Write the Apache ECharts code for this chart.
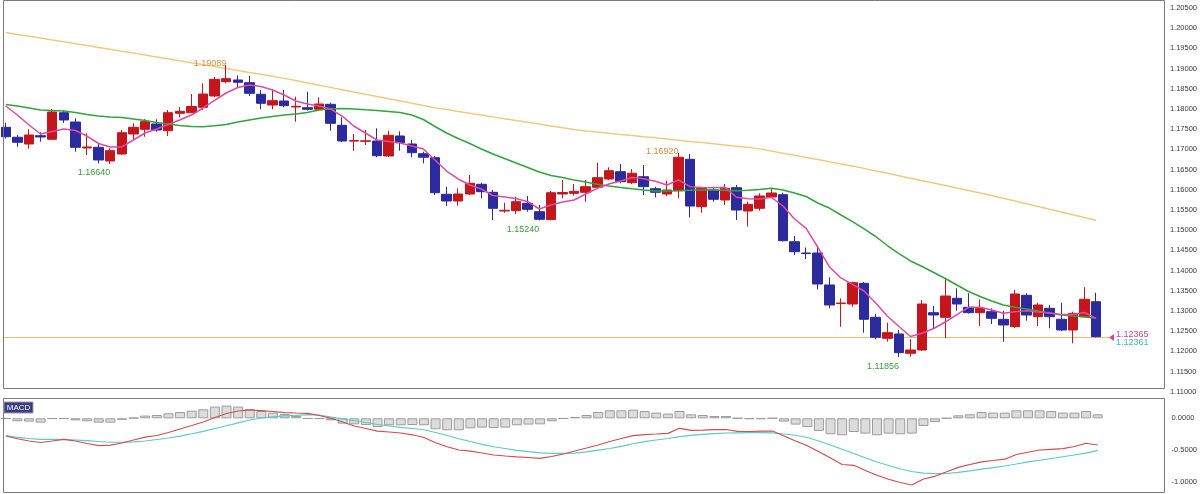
<!DOCTYPE html>
<html>
<head>
<meta charset="utf-8">
<script src="https://cdn.jsdelivr.net/npm/echarts@6/dist/echarts.min.js"></script>
<style>html,body{margin:0;padding:0;background:#fff;}#c{width:1200px;height:494px;}</style>
</head>
<body>
<div id="c"></div>
<script>
// ---- data ----
const slotCount = 100; // 95 bars + right-side chart shift
const open = [1.17547,1.17300,1.17134,1.17339,1.17250,1.17908,1.17678,1.17035,1.17052,1.16713,
1.16886,1.17381,1.17498,1.17629,1.17463,1.17894,1.17908,1.18042,1.18322,1.18676,
1.18718,1.18651,1.18364,1.18099,1.18198,1.18050,1.18032,1.17993,1.18116,1.17597,
1.17205,1.17200,1.17208,1.16837,1.17332,1.17134,1.16894,1.16795,1.15889,1.15723,
1.15896,1.16136,1.15938,1.15475,1.15483,1.15666,1.15458,1.15265,1.15896,1.15913,
1.15938,1.16062,1.16267,1.16448,1.16176,1.16324,1.16027,1.15896,1.15978,1.16755,
1.15582,1.15995,1.15748,1.16052,1.15475,1.15542,1.15822,1.15879,1.14715,1.14436,
1.14436,1.13644,1.13183,1.13173,1.13686,1.12844,1.12324,1.12431,1.11953,1.12035,
1.12958,1.12844,1.13315,1.13092,1.12958,1.12983,1.12795,1.12612,1.13389,1.12859,
1.13067,1.12795,1.12530,1.12859,1.13230];
const close = [1.17314,1.17176,1.17357,1.17307,1.17926,1.17728,1.17052,1.17060,1.16738,1.16968,
1.17413,1.17547,1.17686,1.17480,1.17908,1.17943,1.18062,1.18371,1.18735,1.18750,
1.18661,1.18389,1.18141,1.18206,1.18082,1.18067,1.17993,1.18124,1.17646,1.17208,
1.17218,1.17212,1.16844,1.17349,1.17166,1.16918,1.16805,1.15928,1.15723,1.15896,
1.16161,1.15953,1.15542,1.15492,1.15706,1.15517,1.15270,1.15928,1.15933,1.15963,
1.16077,1.16300,1.16473,1.16201,1.16409,1.16077,1.15938,1.15995,1.16805,1.15599,
1.16037,1.15765,1.16037,1.15500,1.15641,1.15847,1.15921,1.14740,1.14468,1.14421,
1.13668,1.13149,1.13198,1.13701,1.12795,1.12349,1.12463,1.11968,1.12035,1.13173,
1.12901,1.13371,1.13173,1.12958,1.13067,1.12819,1.12654,1.13421,1.12901,1.13149,
1.12859,1.12530,1.12943,1.13290,1.12365];
const high = [1.17661,1.17357,1.17498,1.17423,1.18000,1.17958,1.17770,1.17399,1.17134,1.17027,
1.17480,1.17646,1.17753,1.17745,1.17975,1.18050,1.18371,1.18636,1.18792,1.19089,
1.18834,1.18817,1.18470,1.18488,1.18470,1.18305,1.18428,1.18290,1.18156,1.17795,
1.17381,1.17480,1.17522,1.17463,1.17448,1.17233,1.16943,1.16837,1.16077,1.16037,
1.16366,1.16176,1.15995,1.15681,1.15829,1.15847,1.15624,1.15970,1.16243,1.16144,
1.16243,1.16671,1.16557,1.16639,1.16508,1.16614,1.16077,1.16225,1.16920,1.16886,
1.16077,1.16077,1.16144,1.16119,1.15706,1.15913,1.16037,1.15928,1.14857,1.14572,
1.14597,1.13834,1.13315,1.13725,1.13718,1.12926,1.12711,1.12530,1.12300,1.13272,
1.13124,1.13785,1.13562,1.13438,1.13290,1.13067,1.13008,1.13520,1.13438,1.13206,
1.13149,1.13206,1.12983,1.13587,1.13453];
const low = [1.17270,1.17067,1.17017,1.17191,1.17233,1.17654,1.16943,1.16861,1.16655,1.16640,
1.16861,1.17250,1.17314,1.17438,1.17332,1.17795,1.17901,1.17975,1.18297,1.18636,
1.18537,1.18322,1.17993,1.17993,1.18042,1.17686,1.17963,1.17963,1.17463,1.17183,
1.16968,1.17109,1.16805,1.16812,1.16968,1.16805,1.16656,1.15871,1.15599,1.15607,
1.15871,1.15790,1.15253,1.15433,1.15401,1.15458,1.15240,1.15245,1.15790,1.15859,
1.15706,1.16012,1.16243,1.16161,1.16144,1.15871,1.15814,1.15847,1.15790,1.15319,
1.15433,1.15706,1.15624,1.15253,1.15092,1.15483,1.15797,1.14721,1.14386,1.14287,
1.13537,1.13067,1.12612,1.13107,1.12463,1.12300,1.12240,1.11856,1.11869,1.12010,
1.12572,1.12324,1.13008,1.12938,1.12629,1.12678,1.12240,1.12580,1.12760,1.12629,
1.12572,1.12505,1.12201,1.12851,1.12344];
const maFast = [1.18074,1.17851,1.17604,1.17381,1.17443,1.17505,1.17468,1.17331,1.17146,1.17060,
1.17060,1.17233,1.17406,1.17505,1.17617,1.17728,1.17851,1.18025,1.18211,1.18396,
1.18532,1.18594,1.18557,1.18470,1.18346,1.18198,1.18124,1.18074,1.18000,1.17826,
1.17579,1.17406,1.17233,1.17196,1.17159,1.17084,1.17010,1.16738,1.16465,1.16268,
1.16119,1.16020,1.15859,1.15822,1.15785,1.15706,1.15525,1.15624,1.15698,1.15748,
1.15896,1.16037,1.16144,1.16218,1.16305,1.16273,1.16211,1.16119,1.16243,1.16077,
1.16057,1.16052,1.16062,1.15815,1.15778,1.15773,1.15815,1.15599,1.15278,1.15047,
1.14584,1.14097,1.13818,1.13657,1.13495,1.13198,1.12876,1.12617,1.12369,1.12448,
1.12567,1.12727,1.12913,1.13092,1.13092,1.13025,1.12943,1.12983,1.13005,1.12975,
1.12951,1.12913,1.12913,1.12963,1.12819];
const maMid = [1.18112,1.18074,1.18025,1.17975,1.17963,1.17951,1.17913,1.17864,1.17827,1.17802,
1.17790,1.17753,1.17716,1.17666,1.17629,1.17592,1.17567,1.17562,1.17584,1.17617,
1.17678,1.17728,1.17777,1.17814,1.17851,1.17876,1.17913,1.17975,1.18000,1.18012,
1.18000,1.17980,1.17963,1.17938,1.17913,1.17851,1.17740,1.17567,1.17406,1.17270,
1.17146,1.17010,1.16886,1.16775,1.16664,1.16552,1.16441,1.16354,1.16305,1.16243,
1.16193,1.16136,1.16094,1.16057,1.16025,1.15995,1.15970,1.15970,1.15978,1.15988,
1.15995,1.15995,1.15988,1.15978,1.15988,1.16007,1.16037,1.15995,1.15921,1.15834,
1.15673,1.15549,1.15376,1.15211,1.15030,1.14844,1.14621,1.14423,1.14238,1.14101,
1.13953,1.13805,1.13644,1.13483,1.13359,1.13248,1.13149,1.13092,1.13050,1.13000,
1.12951,1.12901,1.12876,1.12852,1.12819];
const maSlow = [1.19893,1.19846,1.19802,1.19755,1.19708,1.19663,1.19616,1.19569,1.19525,1.19477,
1.19430,1.19384,1.19337,1.19290,1.19243,1.19193,1.19146,1.19101,1.19052,1.19003,
1.18955,1.18906,1.18859,1.18810,1.18758,1.18703,1.18646,1.18589,1.18535,1.18478,
1.18423,1.18366,1.18309,1.18255,1.18198,1.18144,1.18087,1.18032,1.17985,1.17938,
1.17894,1.17849,1.17805,1.17760,1.17716,1.17671,1.17627,1.17582,1.17537,1.17493,
1.17458,1.17431,1.17401,1.17371,1.17344,1.17315,1.17288,1.17258,1.17228,1.17198,
1.17169,1.17139,1.17109,1.17080,1.17050,1.17013,1.16961,1.16906,1.16854,1.16802,
1.16748,1.16696,1.16641,1.16587,1.16530,1.16468,1.16408,1.16347,1.16287,1.16225,
1.16166,1.16106,1.16045,1.15985,1.15923,1.15859,1.15790,1.15723,1.15654,1.15587,
1.15517,1.15451,1.15384,1.15315,1.15248];
const macdLine = [-0.279,-0.323,-0.358,-0.382,-0.358,-0.331,-0.358,-0.397,-0.431,-0.424,
-0.390,-0.342,-0.298,-0.271,-0.224,-0.169,-0.114,-0.058,0.013,0.076,
0.115,0.131,0.121,0.107,0.091,0.084,0.079,0.044,0.000,-0.058,
-0.121,-0.161,-0.203,-0.216,-0.232,-0.260,-0.303,-0.386,-0.449,-0.500,
-0.519,-0.547,-0.579,-0.595,-0.607,-0.618,-0.631,-0.602,-0.563,-0.516,
-0.468,-0.421,-0.366,-0.319,-0.274,-0.257,-0.248,-0.237,-0.158,-0.189,
-0.188,-0.178,-0.177,-0.205,-0.208,-0.203,-0.200,-0.279,-0.358,-0.434,
-0.528,-0.626,-0.729,-0.741,-0.823,-0.899,-0.962,-1.012,-1.052,-0.957,
-0.915,-0.844,-0.774,-0.729,-0.686,-0.666,-0.645,-0.571,-0.536,-0.500,
-0.489,-0.479,-0.445,-0.394,-0.421];
const signalLine = [-0.273,-0.300,-0.319,-0.331,-0.331,-0.333,-0.342,-0.353,-0.366,-0.378,
-0.378,-0.371,-0.358,-0.334,-0.311,-0.282,-0.244,-0.205,-0.161,-0.118,
-0.071,-0.027,0.005,0.024,0.039,0.046,0.057,0.052,0.020,-0.008,
-0.039,-0.066,-0.098,-0.121,-0.142,-0.161,-0.181,-0.224,-0.271,-0.322,
-0.366,-0.410,-0.449,-0.476,-0.505,-0.527,-0.544,-0.552,-0.554,-0.550,
-0.531,-0.503,-0.476,-0.442,-0.401,-0.369,-0.342,-0.319,-0.290,-0.268,
-0.255,-0.243,-0.232,-0.229,-0.227,-0.227,-0.229,-0.248,-0.267,-0.303,
-0.358,-0.421,-0.489,-0.555,-0.623,-0.689,-0.744,-0.800,-0.839,-0.866,
-0.874,-0.871,-0.852,-0.828,-0.803,-0.779,-0.752,-0.721,-0.686,-0.662,
-0.634,-0.606,-0.579,-0.550,-0.505];
const macdHist = [-0.005,-0.047,-0.052,-0.068,-0.008,-0.005,-0.032,-0.047,-0.068,-0.068,
-0.024,0.008,0.043,0.052,0.079,0.099,0.121,0.142,0.185,0.200,
0.185,0.147,0.115,0.090,0.068,0.036,-0.005,-0.008,-0.032,-0.084,
-0.095,-0.106,-0.137,-0.110,-0.110,-0.106,-0.110,-0.173,-0.189,-0.189,
-0.158,-0.147,-0.153,-0.147,-0.110,-0.099,-0.095,-0.047,-0.005,0.021,
0.052,0.099,0.126,0.126,0.137,0.115,0.090,0.074,0.115,0.063,
0.052,0.036,0.036,0.002,-0.011,-0.011,0.002,-0.052,-0.099,-0.137,
-0.200,-0.252,-0.268,-0.216,-0.241,-0.268,-0.241,-0.252,-0.241,-0.121,
-0.058,0.002,0.047,0.063,0.099,0.090,0.090,0.126,0.126,0.126,
0.115,0.090,0.090,0.115,0.063];
const priceTicks = {min: 1.11, step: 0.005};
const macdTickValues = [0, -0.5, -1.0];
const extremes = [
  {i: 19, v: 1.19089, kind: 'high'},
  {i: 58, v: 1.16920, kind: 'high'},
  {i: 9,  v: 1.16640, kind: 'low'},
  {i: 46, v: 1.15240, kind: 'low'},
  {i: 77, v: 1.11856, kind: 'low'}
];
const bidPrice = 1.12365;
const bidLabels = ['1.12365', '1.12361'];

// ---- chart ----
const cats = Array.from({length: slotCount}, (_, i) => String(i + 1));
const ohlc = open.map((o, i) => [o, close[i], low[i], high[i]]);
const chart = echarts.init(document.getElementById('c'), null, {renderer: 'canvas'});
const FONT = 'Liberation Sans';
const option = {
  animation: false,
  backgroundColor: '#ffffff',
  grid: [
    {left: 0, top: 1, width: 1165, height: 390.8},
    {left: 0, top: 398, width: 1165, height: 95}
  ],
  xAxis: [
    {type: 'category', data: cats, gridIndex: 0, boundaryGap: true, show: false},
    {type: 'category', data: cats, gridIndex: 1, boundaryGap: true, show: false}
  ],
  yAxis: [
    {type: 'value', gridIndex: 0, position: 'right', min: priceTicks.min, max: 1.206733, interval: priceTicks.step,
     axisLine: {show: false}, axisTick: {show: false}, splitLine: {show: false},
     axisLabel: {showMaxLabel: false, margin: 10, color: '#3a3a3a', fontSize: 7.5, fontFamily: FONT,
       formatter: v => v.toFixed(5)}},
    {type: 'value', gridIndex: 1, position: 'right', min: -1.1782, max: 0.3202,
     axisLine: {show: false}, axisTick: {show: false}, splitLine: {show: false},
     axisLabel: {customValues: macdTickValues, margin: 10, color: '#3a3a3a', fontSize: 7.5, fontFamily: FONT,
       formatter: v => v.toFixed(4)}}
  ],
  series: [
    {type: 'line', name: 'MA slow', data: maSlow, xAxisIndex: 0, yAxisIndex: 0, symbol: 'none',
     lineStyle: {color: '#f3c97f', width: 1.5}, z: 2},
    {type: 'line', name: 'MA mid', data: maMid, xAxisIndex: 0, yAxisIndex: 0, symbol: 'none',
     lineStyle: {color: '#2ea63c', width: 1.5}, z: 4},
    {type: 'candlestick', name: 'price', data: ohlc, xAxisIndex: 0, yAxisIndex: 0, barWidth: 10,
     itemStyle: {color: '#c4161c', color0: '#2b2b9e', borderColor: '#c4161c', borderColor0: '#2b2b9e', borderWidth: 1},
     z: 3,
     markPoint: {silent: true, symbol: 'circle', symbolSize: 0,
       data: extremes.map(e => ({coord: [e.i, e.v], value: e.v,
         label: {show: true, position: 'left', distance: 0, offset: e.kind === 'low' ? [0, 9] : [0, -1],
           formatter: e.v.toFixed(5), fontSize: 9, fontFamily: FONT,
           color: e.kind === 'high' ? '#cf8f48' : '#3a9e3a'}}))}},
    {type: 'line', name: 'MA fast', data: maFast, xAxisIndex: 0, yAxisIndex: 0, symbol: 'none',
     lineStyle: {color: '#e24aa0', width: 1.5}, z: 5},
    {type: 'bar', name: 'hist', data: macdHist, xAxisIndex: 1, yAxisIndex: 1, barWidth: 10,
     itemStyle: {color: '#dcdcdc', borderColor: '#9c9c9c', borderWidth: 1}},
    {type: 'line', name: 'signal', data: signalLine, xAxisIndex: 1, yAxisIndex: 1, symbol: 'none',
     lineStyle: {color: '#5ccaca', width: 1.2}},
    {type: 'line', name: 'macd', data: macdLine, xAxisIndex: 1, yAxisIndex: 1, symbol: 'none',
     lineStyle: {color: '#d24d4d', width: 1.2}}
  ]
};
chart.setOption(option);

const bidY = Math.round(chart.convertToPixel({yAxisIndex: 0}, bidPrice)) + 0.5;
chart.setOption({
  graphic: [
    {type: 'line', shape: {x1: 3, y1: bidY, x2: 1109, y2: bidY}, style: {stroke: '#e8bf72', lineWidth: 1.2}, z: 1, silent: true},
    {type: 'rect', shape: {x: 3.5, y: 0.5, width: 1161, height: 388}, style: {fill: 'none', stroke: '#7a7a7a', lineWidth: 1}, z: 100, silent: true},
    {type: 'rect', shape: {x: 3.5, y: 398.5, width: 1161, height: 94}, style: {fill: 'none', stroke: '#7a7a7a', lineWidth: 1}, z: 100, silent: true},
    {type: 'rect', shape: {x: 4, y: 402, width: 29, height: 11}, style: {fill: '#3d3d7a', stroke: '#9999bb', lineWidth: 1}, z: 101, silent: true},
    {type: 'text', x: 18.5, y: 407.5, style: {text: 'MACD', fill: '#ffffff', font: '8px ' + FONT, align: 'center', verticalAlign: 'middle'}, z: 102, silent: true},
    {type: 'polygon', shape: {points: [[1109, bidY], [1114, bidY - 3.5], [1114, bidY + 3.5]]}, style: {fill: '#d0478e'}, z: 102, silent: true},
    {type: 'text', x: 1116, y: bidY - 3, style: {text: bidLabels[0], fill: '#d0478e', font: '9px ' + FONT, verticalAlign: 'middle'}, z: 102, silent: true},
    {type: 'text', x: 1116, y: bidY + 5.5, style: {text: bidLabels[1], fill: '#3cb6c6', font: '9px ' + FONT, verticalAlign: 'middle'}, z: 102, silent: true}
  ]
});
</script>
</body>
</html>
